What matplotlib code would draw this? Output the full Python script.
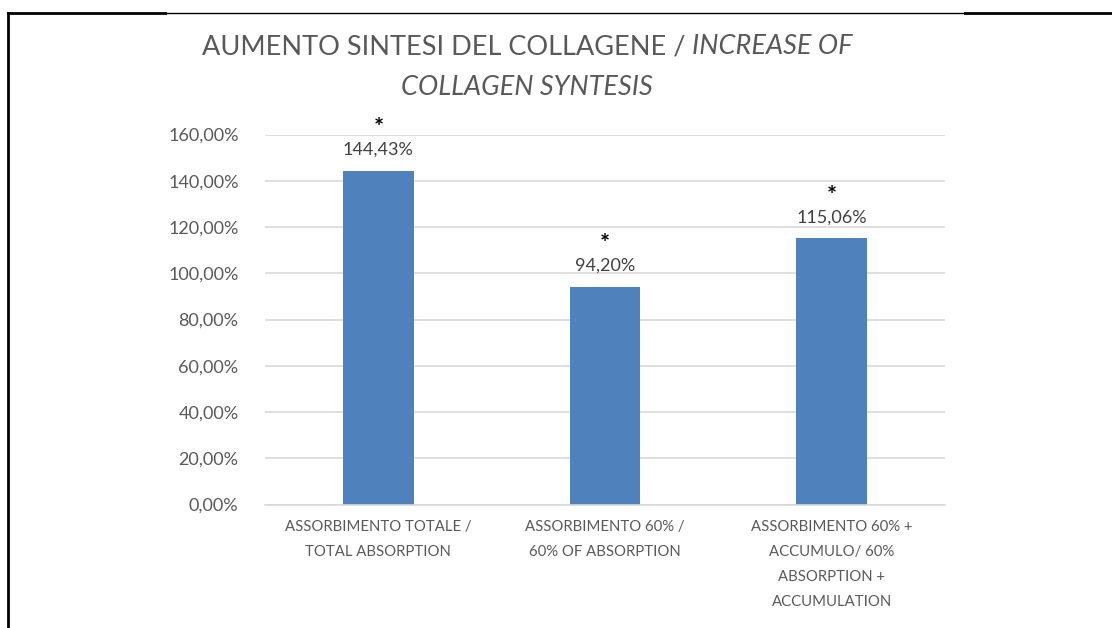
import matplotlib.pyplot as plt
from matplotlib.lines import Line2D

categorie = ['ASSORBIMENTO TOTALE /\nTOTAL ABSORPTION',
             'ASSORBIMENTO 60% /\n60% OF ABSORPTION',
             'ASSORBIMENTO 60% +\nACCUMULO/ 60%\nABSORPTION +\nACCUMULATION']
valori = [144.43, 94.20, 115.06]
etichette = ['144,43%', '94,20%', '115,06%']
tick_y = [0, 20, 40, 60, 80, 100, 120, 140, 160]
tick_lab = ['%d,00%%' % t for t in tick_y]

plt.rcParams['font.family'] = ['Lato', 'DejaVu Sans']
grigio = '#595959'

fig = plt.figure(figsize=(11.12, 6.28), dpi=100)
ax = fig.add_axes([265 / 1112, 1 - 504.5 / 628, 680 / 1112, 370 / 628])

x = range(len(valori))
ax.bar(x, valori, width=0.313, color='#4f81bd', zorder=2)
ax.set_xlim(-0.5, 2.5)
ax.set_ylim(0, 160)
ax.set_yticks(tick_y)
ax.set_yticklabels(tick_lab, fontsize=13)
ax.set_xticks(list(x))
ax.set_xticklabels(categorie, linespacing=2.0, fontsize=10.7)
ax.tick_params(axis='both', length=0, colors=grigio)
ax.tick_params(axis='y', pad=19)
ax.tick_params(axis='x', pad=11)
ax.grid(axis='y', color='#d9d9d9', linewidth=1.2, zorder=0)
for s in ['top', 'right', 'left']:
    ax.spines[s].set_visible(False)
ax.spines['bottom'].set_color('#d9d9d9')
ax.spines['bottom'].set_linewidth(1.2)

for i, v in enumerate(valori):
    ax.annotate(etichette[i], (i, v), xytext=(0, 21), textcoords='offset pixels',
                ha='center', va='center', fontsize=13, color='#404040')
    ax.annotate('*', (i, v), xytext=(0, 42), textcoords='offset pixels',
                ha='center', va='center', fontsize=17, fontweight='bold', color='black')

# titolo: parte normale + parte in corsivo
fs = 19.5
t1 = fig.text(0, 1 - 54 / 628, 'AUMENTO SINTESI DEL COLLAGENE / ', fontsize=fs, color=grigio, va='baseline')
t2 = fig.text(0, 1 - 54 / 628, 'INCREASE OF', fontsize=fs, color=grigio, style='italic', va='baseline')
t3 = fig.text(527 / 1112, 1 - 95 / 628, 'COLLAGEN SYNTESIS', fontsize=fs, color=grigio, style='italic',
              va='baseline', ha='center')
r = fig.canvas.get_renderer()
w1 = t1.get_window_extent(r).width
w2 = t2.get_window_extent(r).width
x0 = 527 - (w1 + w2) / 2
t1.set_x(x0 / 1112)
t2.set_x((x0 + w1) / 1112)

# bordi della pagina
fig.add_artist(Line2D([8 / 1112, 165 / 1112], [1 - 12.5 / 628] * 2, color='black', lw=2))
fig.add_artist(Line2D([165 / 1112, 965 / 1112], [1 - 12.5 / 628] * 2, color='black', lw=1))
fig.add_artist(Line2D([965 / 1112, 1], [1 - 12.5 / 628] * 2, color='black', lw=2))
fig.add_artist(Line2D([8 / 1112, 8 / 1112], [0, 1 - 12.5 / 628], color='black', lw=2))

fig.savefig('out.png', dpi=100)
